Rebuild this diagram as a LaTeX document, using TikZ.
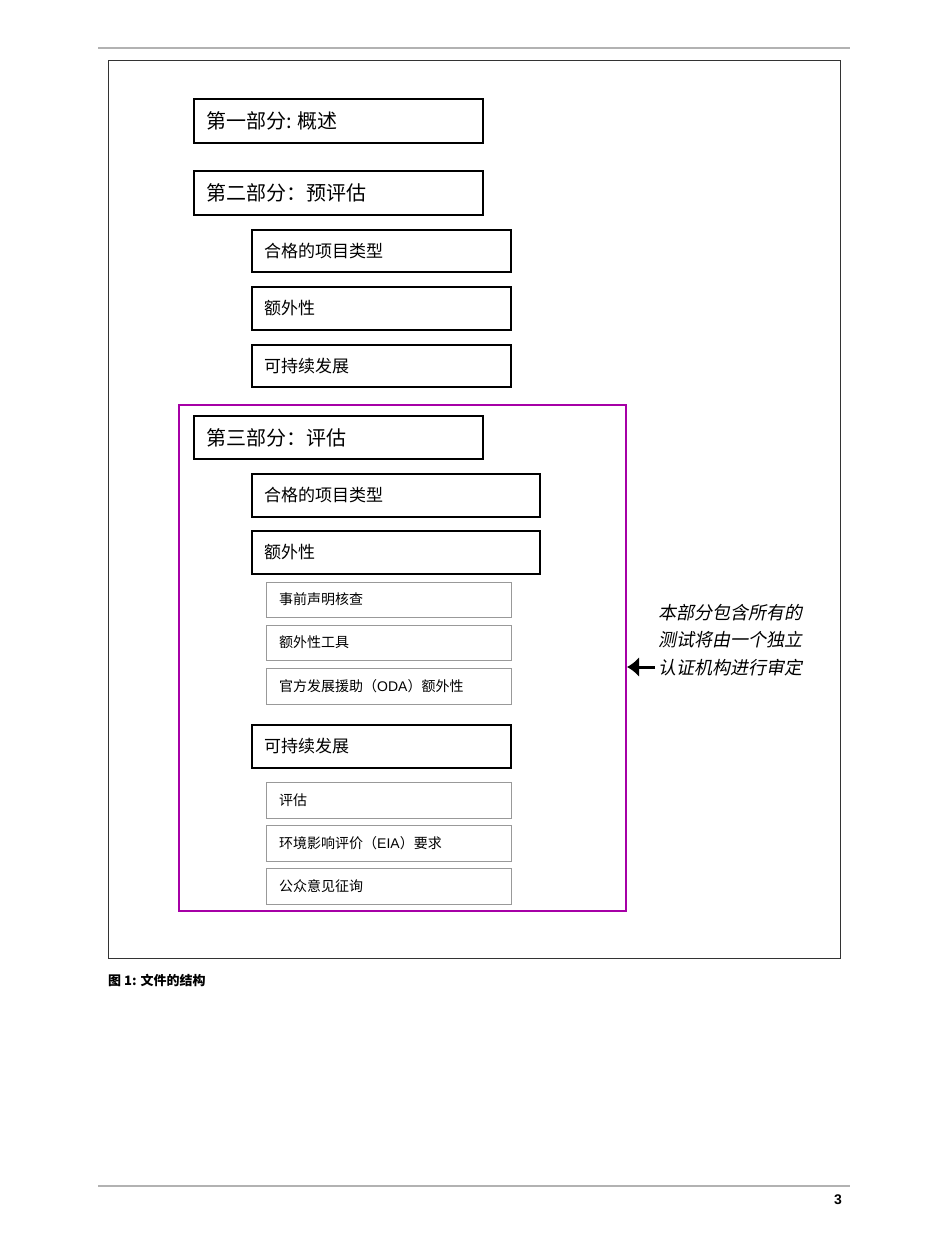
\documentclass[tikz,border=0pt]{standalone}
\usepackage{fontspec}
\usetikzlibrary{arrows.meta}
\setmainfont{Liberation Sans}
\newfontfamily\cjk{Noto Sans CJK SC}
\newfontfamily\cjkit[FakeSlant=0.2]{Noto Sans CJK SC}
\begin{document}
\begin{tikzpicture}[x=1pt,y=-1pt,
  big/.style={draw=black,line width=2pt},
  gbox/.style={draw=gray!80,line width=1pt},
  lbl/.style={anchor=west,inner sep=0pt},
]
\useasboundingbox (0,0) rectangle (950,1258);
\fill[white] (0,0) rectangle (950,1258);
\draw[gray!60,line width=1.2pt] (98,48) -- (850,48);
\draw[gray!60,line width=1.2pt] (98,1186) -- (850,1186);
\draw[black!80,line width=1pt] (108,60) rectangle (840,958);
\draw[violet!70!magenta,line width=2pt] (179,405) rectangle (626,911);
\node[lbl] (n0) at (108,980) {\cjk\fontsize{13}{15}\selectfont\bfseries 图 \textbf{1:} 文件的结构};
\node[anchor=east,inner sep=0pt] (pg) at (842,1200) {\fontsize{14}{16}\selectfont\bfseries 3};
% headers
\foreach \n/\a/\b/\c/\d/\t in {h1/194/99/483/143/{第一部分: 概述},h2/194/171/483/215/{第二部分：预评估},h3/194/416/483/459/{第三部分：评估}}{
  \draw[big] (\a,\b) rectangle (\c,\d);
  \node[lbl] (\n) at (\a+12,{(\b+\d)/2}) {\cjk\fontsize{20}{22}\selectfont \t};
}
\foreach \n/\a/\b/\c/\d/\t in {s1/252/230/511/272/{合格的项目类型},s2/252/287/511/330/{额外性},s3/252/345/511/387/{可持续发展},s4/252/474/540/517/{合格的项目类型},s5/252/531/540/574/{额外性},s6/252/725/511/768/{可持续发展}}{
  \draw[big] (\a,\b) rectangle (\c,\d);
  \node[lbl] (\n) at (\a+12,{(\b+\d)/2}) {\cjk\fontsize{17}{19}\selectfont \t};
}
\foreach \n/\b/\d/\t in {g1/582/617/{事前声明核查},g2/625/660/{额外性工具},g3/668/704/{官方发展援助（\textrm{ODA}）额外性},g4/782/818/{评估},g5/825/861/{环境影响评价（\textrm{EIA}）要求},g6/868/904/{公众意见征询}}{
  \draw[gbox] (266,\b) rectangle (511,\d);
  \node[lbl] (\n) at (279,{(\b+\d)/2}) {\cjk\fontsize{14}{16}\selectfont \t};
}
\node[anchor=west,inner sep=0pt,align=left,font={\cjkit\fontsize{18}{27.5}\selectfont}] (note) at (658,640) {本部分包含所有的\\测试将由一个独立\\认证机构进行审定};
\coordinate (tip) at (627,667);
\draw[line width=3pt,-{Latex[length=12pt,width=20pt]}] (655,667) -- (tip);
\end{tikzpicture}
\end{document}
